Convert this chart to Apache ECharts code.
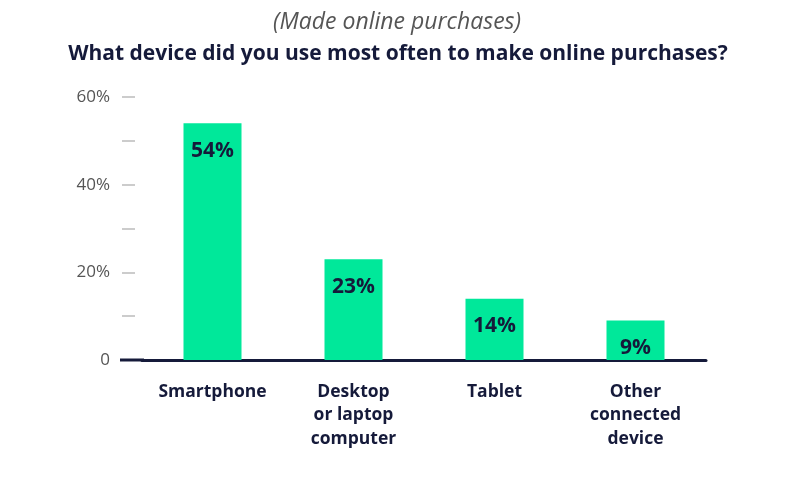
<!DOCTYPE html>
<html>
<head>
<meta charset="utf-8">
<script src="https://cdn.jsdelivr.net/npm/echarts@6/dist/echarts.min.js"></script>
<style>
  html, body { margin: 0; padding: 0; background: #fff; }
  #chart { width: 800px; height: 498px; }
</style>
</head>
<body>
<div id="chart"></div>
<script>
var categories = ['Smartphone', 'Desktop\nor laptop\ncomputer', 'Tablet', 'Other\nconnected\ndevice'];
var shares = [54, 23, 14, 9];
var yTicks = [0, 10, 20, 30, 40, 50, 60];

var navy = '#151a3a';
var green = '#00e89a';

var chart = echarts.init(document.getElementById('chart'));
chart.setOption({
  animation: false,
  title: [
    {
      text: '(Made online purchases)',
      left: 392,
      textAlign: 'center',
      top: 6,
      textStyle: { fontFamily: 'Open Sans', fontStyle: 'italic', fontWeight: 'normal', fontSize: 23, color: '#555' }
    },
    {
      text: 'What device did you use most often to make online purchases?',
      left: 393,
      textAlign: 'center',
      top: 39,
      textStyle: { fontFamily: 'Open Sans', fontWeight: 'bold', fontSize: 21, color: navy }
    }
  ],
  grid: { left: 142, right: 94, top: 97, bottom: 138 },
  // short stub so the base line starts left of the ticks like the original
  graphic: [
    { type: 'rect', z: 100, shape: { x: 120, y: 358.5, width: 24, height: 3 }, style: { fill: navy } }
  ],
  xAxis: {
    type: 'category',
    data: categories,
    axisLine: { lineStyle: { color: navy, width: 3 } },
    axisTick: { show: false },
    axisLabel: {
      margin: 20,
      color: navy,
      fontFamily: 'Open Sans',
      fontWeight: 'bold',
      fontSize: 17.5,
      lineHeight: 23.5
    }
  },
  yAxis: {
    type: 'value',
    min: yTicks[0],
    max: yTicks[yTicks.length - 1],
    interval: 10,
    offset: 7,
    splitLine: { show: false },
    axisLine: { show: false },
    axisTick: { show: true, length: 13, lineStyle: { color: '#cccccc', width: 2 } },
    axisLabel: {
      margin: 25,
      color: '#555',
      fontFamily: 'Open Sans',
      fontSize: 17,
      formatter: function (v) {
        if (v === 0) return '0';
        return v % 20 === 0 ? v + '%' : '';
      }
    }
  },
  series: [{
    type: 'bar',
    data: shares,
    barWidth: 58,
    itemStyle: { color: green },
    label: {
      show: true,
      position: 'insideTop',
      distance: 17,
      formatter: '{c}%',
      color: navy,
      fontFamily: 'Open Sans',
      fontWeight: 'bold',
      fontSize: 21
    }
  }]
});
</script>
</body>
</html>
